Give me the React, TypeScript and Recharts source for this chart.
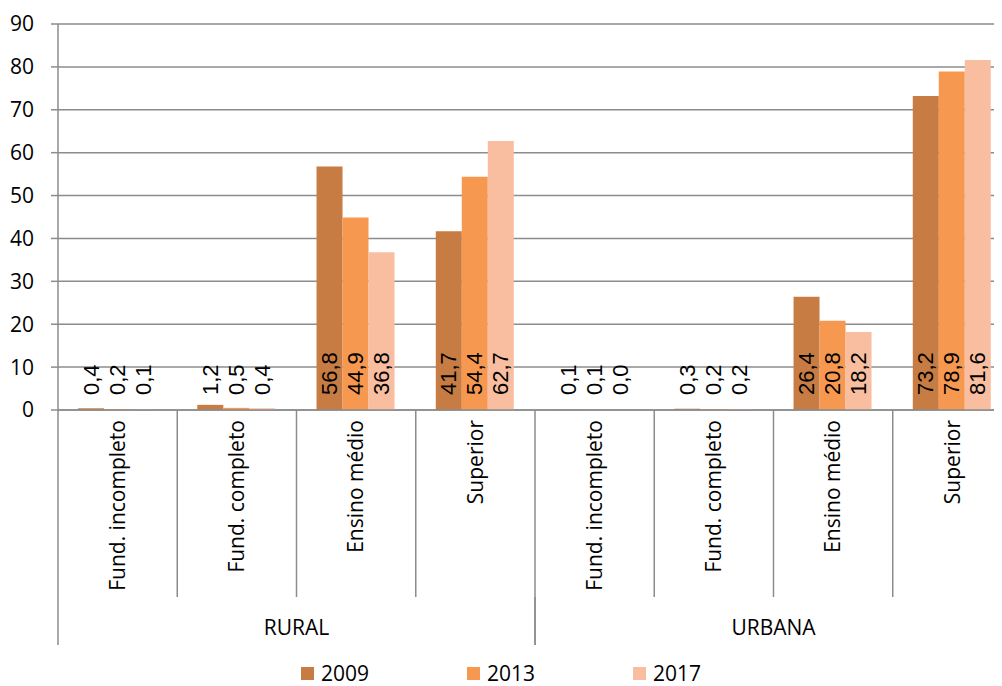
import React from "react"
import { Bar, BarChart, CartesianGrid, LabelList, Legend, XAxis, YAxis } from "recharts"

const categories = [
  "Fund. incompleto",
  "Fund. completo",
  "Ensino médio",
  "Superior",
  "Fund. incompleto",
  "Fund. completo",
  "Ensino médio",
  "Superior",
]
const groups = ["RURAL", "RURAL", "RURAL", "RURAL", "URBANA", "URBANA", "URBANA", "URBANA"]
const s2009 = [0.4, 1.2, 56.8, 41.7, 0.1, 0.3, 26.4, 73.2]
const s2013 = [0.2, 0.5, 44.9, 54.4, 0.1, 0.2, 20.8, 78.9]
const s2017 = [0.1, 0.4, 36.8, 62.7, 0.0, 0.2, 18.2, 81.6]
const yTicks = [0, 10, 20, 30, 40, 50, 60, 70, 80, 90]

const series = [
  { key: "y2009", name: "2009", color: "#C77C43" },
  { key: "y2013", name: "2013", color: "#F79850" },
  { key: "y2017", name: "2017", color: "#F9BE9F" },
]

const data = categories.map((cat, i) => ({
  cat,
  group: groups[i],
  y2009: s2009[i],
  y2013: s2013[i],
  y2017: s2017[i],
}))

const GRAY = "#8c8c8c"
const FONT = "'Open Sans', sans-serif"
const PLOT_W = 954

const fmt = (v: number) => v.toFixed(1).replace(".", ",")

function CatTick(props: any) {
  const { x, y, payload, index, visibleTicksCount } = props
  const count = visibleTicksCount || categories.length
  const band = (props.width || PLOT_W) / count
  const left = x - band / 2
  return (
    <g>
      <line x1={left} x2={left} y1={y} y2={y + 187} stroke={GRAY} strokeWidth={1.5} />
      {index === count - 1 && (
        <line x1={x + band / 2} x2={x + band / 2} y1={y} y2={y + 187} stroke={GRAY} strokeWidth={1.5} />
      )}
      <text
        x={x}
        y={y + 10}
        transform={`rotate(-90, ${x}, ${y + 10})`}
        textAnchor="end"
        dy="0.35em"
        fontFamily={FONT}
        fontSize={21}
        fill="#000"
      >
        {payload.value}
      </text>
    </g>
  )
}

function GroupTick(props: any) {
  const { x, y, payload } = props
  const band = (props.width || PLOT_W) / 2
  return (
    <g>
      <line x1={x - band / 2} x2={x - band / 2} y1={y} y2={y + 48} stroke={GRAY} strokeWidth={1.5} />
      <line x1={x + band / 2} x2={x + band / 2} y1={y} y2={y + 48} stroke={GRAY} strokeWidth={1.5} />
      <text x={x} y={y + 31} dy="0.35em" textAnchor="middle" fontFamily={FONT} fontSize={21} fill="#000">
        {payload.value}
      </text>
    </g>
  )
}

function BarLabel(props: any) {
  const { x, y, width, height, value } = props
  const cx = x + width / 2
  const by = y + height - 15
  return (
    <text
      x={cx}
      y={by}
      transform={`rotate(-90, ${cx}, ${by})`}
      textAnchor="start"
      dy="0.35em"
      fontFamily="'Liberation Sans', Arial, sans-serif"
      fontSize={22}
      fill="#000"
    >
      {fmt(Number(value))}
    </text>
  )
}

function LegendContent() {
  return (
    <div style={{ height: 41, display: "flex", paddingLeft: 293, paddingTop: 19, boxSizing: "border-box" }}>
      {series.map((s) => (
        <div key={s.key} style={{ width: 166, display: "flex", alignItems: "center", height: 18 }}>
          <span style={{ width: 13, height: 13, background: s.color, display: "inline-block", marginRight: 7 }} />
          <span style={{ fontFamily: FONT, fontSize: 21, lineHeight: "18px", color: "#000" }}>{s.name}</span>
        </div>
      ))}
    </div>
  )
}

export default function App() {
  return (
    <div style={{ width: 994, height: 678, overflow: "hidden" }}>
      <BarChart
        width={1010}
        height={678}
        data={data}
        margin={{ top: 16, right: 6, bottom: 0, left: 0 }}
        barCategoryGap="16.8%"
        barGap={0}
      >
        <CartesianGrid vertical={false} stroke={GRAY} strokeWidth={1.5} />
        <YAxis
          width={50}
          domain={[0, 90]}
          ticks={yTicks}
          interval={0}
          tickSize={7}
          tickMargin={17}
          axisLine={{ stroke: GRAY, strokeWidth: 1.5 }}
          tickLine={{ stroke: GRAY, strokeWidth: 1.5 }}
          tick={{ fill: "#000", fontFamily: FONT, fontSize: 21 }}
        />
        <XAxis
          dataKey="cat"
          interval={0}
          height={187}
          tickSize={0}
          tickMargin={0}
          axisLine={{ stroke: GRAY, strokeWidth: 1.5 }}
          tickLine={false}
          tick={<CatTick />}
        />
        <XAxis
          xAxisId="grp"
          dataKey="group"
          allowDuplicatedCategory={false}
          interval={0}
          height={48}
          tickSize={0}
          tickMargin={0}
          axisLine={false}
          tickLine={false}
          tick={<GroupTick />}
        />
        <Legend verticalAlign="bottom" content={<LegendContent />} wrapperStyle={{ left: 0, width: 1010, height: 41 }} />
        {series.map((s) => (
          <Bar
            key={s.key}
            dataKey={s.key}
            name={s.name}
            fill={s.color}
            minPointSize={0.1}
            isAnimationActive={false}
          >
            <LabelList dataKey={s.key} content={<BarLabel />} />
          </Bar>
        ))}
      </BarChart>
    </div>
  )
}
